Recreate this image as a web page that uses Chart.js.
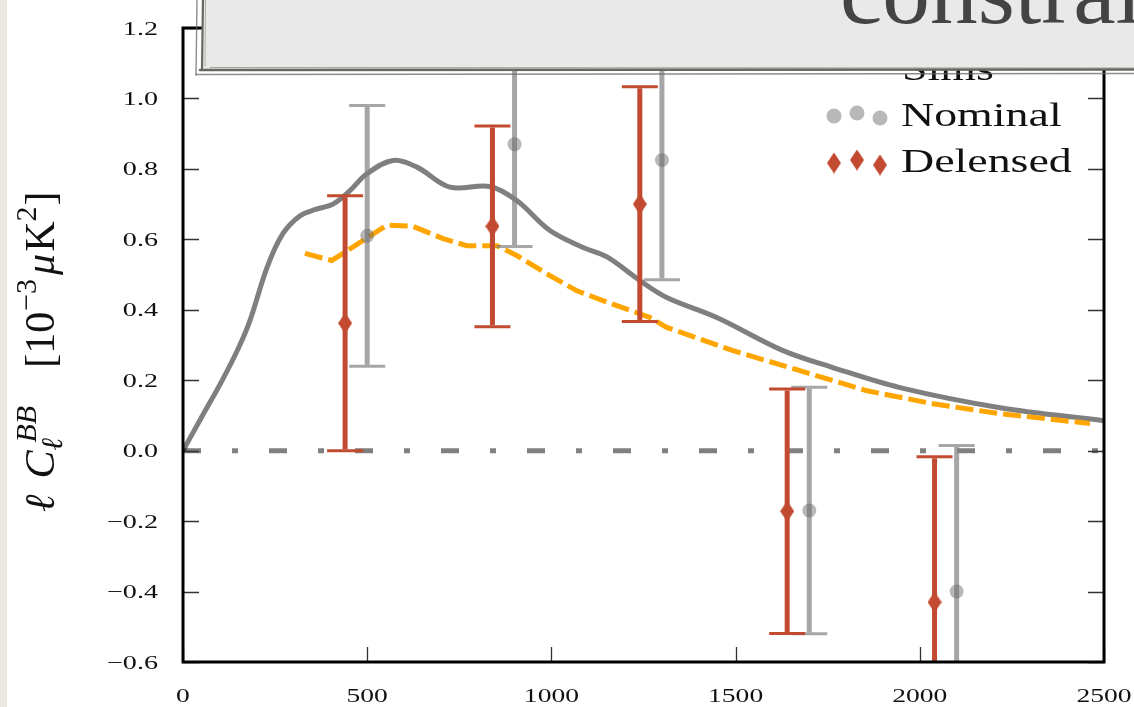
<!DOCTYPE html>
<html lang="en">
<head>
<meta charset="UTF-8">
<title>BB band powers</title>
<script src="https://cdn.jsdelivr.net/npm/chart.js@4.4.1/dist/chart.umd.min.js"></script>
<style>
  html, body { margin: 0; padding: 0; background: #fff; overflow: hidden; }
  canvas { display: block; }
</style>
</head>
<body>
<canvas id="bbChart" width="1134" height="707"></canvas>
<script>
// lensing BB theory (solid grey)
const ELL_LENSED = [0, 50, 106, 150, 182, 228, 271, 318, 360, 407, 453, 499, 570, 635, 725, 833, 906, 996, 1086, 1151, 1240, 1313, 1449, 1629, 1764, 1946, 2218, 2500];
const CBB_LENSED = [0, 0.094, 0.199, 0.29, 0.37, 0.52, 0.616, 0.667, 0.685, 0.70, 0.738, 0.786, 0.824, 0.805, 0.748, 0.75, 0.71, 0.625, 0.577, 0.55, 0.483, 0.435, 0.378, 0.284, 0.236, 0.179, 0.122, 0.085];

// residual after delensing (orange dashed)
const ELL_RESIDUAL = [331, 404, 553, 624, 706, 770, 852, 906, 996, 1069, 1140, 1268, 1313, 1493, 1675, 1857, 2036, 2218, 2462];
const CBB_RESIDUAL = [0.56, 0.54, 0.64, 0.637, 0.602, 0.582, 0.582, 0.554, 0.497, 0.454, 0.426, 0.378, 0.35, 0.284, 0.227, 0.17, 0.133, 0.105, 0.077];

// simulated band powers
const ELL_NOMINAL = [500, 900, 1300, 1700, 2100];
const CBB_NOMINAL = [0.61, 0.87, 0.825, -0.17, -0.40];
const ERR_NOMINAL = [0.37, 0.29, 0.34, 0.35, 0.415];

const ELL_DELENSED = [440, 840, 1240, 1640, 2040];
const CBB_DELENSED = [0.362, 0.637, 0.70, -0.172, -0.43];
const ERR_DELENSED = [0.362, 0.285, 0.333, 0.347, 0.413];

// axes
const X_MIN = 0, X_MAX = 2500, X_STEP = 500;
const Y_MIN = -0.6, Y_MAX = 1.2, Y_STEP = 0.2;
const ZERO_LINE_X = [0, 2500];

const LEGEND_TITLE = 'Sims';
const LEGEND_LABELS = ['Nominal', 'Delensed'];
const SLIDE_TITLE = 'constraints';

// colours
const RED = '#c14a30';
const GREY_BAR = 'rgba(128,128,128,0.7)';
const GREY_DOT = 'rgba(101,101,101,0.46)';
const SERIF = "'Liberation Serif', 'DejaVu Serif', serif";

function makeDiamond(w, h, color) {
    const c = document.createElement('canvas');
    c.width = w; c.height = h;
    const g = c.getContext('2d');
    g.fillStyle = color;
    g.beginPath();
    g.moveTo(w / 2, 0); g.lineTo(w, h / 2); g.lineTo(w / 2, h); g.lineTo(0, h / 2);
    g.closePath(); g.fill();
    return c;
}
const DIAMOND = makeDiamond(14, 21, RED);

const toPoints = (xs, ys) => xs.map((x, i) => ({ x, y: ys[i] }));

function fmtY(v) {
    if (Math.abs(v) < 1e-9) v = 0;
    return (v < 0 ? '\u2212' : '') + Math.abs(v).toFixed(1);
}

// text stretched horizontally
function wideText(ctx, str, x, y, sx, align) {
    ctx.save();
    ctx.translate(x, y);
    ctx.scale(sx, 1);
    ctx.textAlign = align;
    ctx.fillText(str, 0, 0);
    ctx.restore();
}

function drawErrorBars(chart, xs, ys, errs, color) {
    const { ctx, chartArea: a, scales: { x, y } } = chart;
    ctx.save();
    ctx.beginPath();
    ctx.rect(a.left, a.top, a.right - a.left, a.bottom - a.top);
    ctx.clip();
    ctx.strokeStyle = color;
    ctx.lineCap = 'butt';
    xs.forEach((v, i) => {
        const px = x.getPixelForValue(v);
        const top = y.getPixelForValue(ys[i] + errs[i]);
        const bot = y.getPixelForValue(ys[i] - errs[i]);
        ctx.lineWidth = 5;
        ctx.beginPath(); ctx.moveTo(px, top + 1.5); ctx.lineTo(px, bot - 1.5); ctx.stroke();
        ctx.lineWidth = 3;
        ctx.beginPath();
        ctx.moveTo(px - 18, top); ctx.lineTo(px + 18, top);
        ctx.moveTo(px - 18, bot); ctx.lineTo(px + 18, bot);
        ctx.stroke();
    });
    ctx.restore();
}

function drawFrame(chart) {
    const { ctx, chartArea: a, scales: { x, y } } = chart;
    ctx.save();
    // inward ticks
    ctx.strokeStyle = '#333';
    ctx.lineWidth = 1.3;
    ctx.beginPath();
    y.ticks.forEach(t => {
        const py = Math.round(y.getPixelForValue(t.value)) + 0.5;
        ctx.moveTo(a.left, py); ctx.lineTo(a.left + 16, py);
        ctx.moveTo(a.right, py); ctx.lineTo(a.right - 16, py);
    });
    x.ticks.forEach(t => {
        const px = Math.round(x.getPixelForValue(t.value)) + 0.5;
        ctx.moveTo(px, a.bottom); ctx.lineTo(px, a.bottom - 15);
    });
    ctx.stroke();
    // spines
    ctx.strokeStyle = '#000';
    ctx.lineWidth = 3;
    ctx.beginPath();
    ctx.moveTo(a.left, a.top); ctx.lineTo(a.right, a.top);
    ctx.lineTo(a.right, a.bottom); ctx.lineTo(a.left, a.bottom); ctx.closePath();
    ctx.stroke();

    // tick labels
    ctx.fillStyle = '#111';
    ctx.font = '19px ' + SERIF;
    ctx.textBaseline = 'alphabetic';
    y.ticks.forEach(t => {
        wideText(ctx, fmtY(t.value), a.left - 25, y.getPixelForValue(t.value) + 6.5, 1.48, 'right');
    });
    x.ticks.forEach(t => {
        wideText(ctx, String(t.value), x.getPixelForValue(t.value), 702, 1.45, 'center');
    });
    ctx.restore();
}

function drawYTitle(ctx) {
    const ital = s => 'italic ' + s + 'px ' + SERIF;
    const rom = s => s + 'px ' + SERIF;
    ctx.save();
    ctx.translate(54, 512);
    ctx.rotate(-Math.PI / 2);
    ctx.fillStyle = '#111';
    ctx.textBaseline = 'alphabetic';
    ctx.textAlign = 'left';
    let cx = 0;
    const put = (t, font, rise, dx) => {
        ctx.font = font;
        ctx.fillText(t, cx + (dx || 0), rise);
        return ctx.measureText(t).width + (dx || 0);
    };
    cx += put('\u2113', ital(42), 0) + 16;
    cx += put('C', ital(42), 0);
    const wSup = put('BB', ital(30), -18, 8);
    const wSub = put('\u2113', ital(30), 8, 0);
    cx += Math.max(wSup, wSub) + 38;
    cx += put('[10', rom(42), 0) + 1;
    cx += put('\u22123', rom(30), -18) + 4;
    cx += put('\u03bc', ital(42), 0) + 2;
    cx += put('K', rom(42), 0);
    cx += put('2', rom(30), -18) + 1;
    put(']', rom(42), 0);
    ctx.restore();
}

function drawLegend(ctx) {
    ctx.save();
    ctx.fillStyle = '#111';
    ctx.font = '34px ' + SERIF;
    ctx.textBaseline = 'alphabetic';
    wideText(ctx, LEGEND_TITLE, 902, 80, 1.35, 'left');
    wideText(ctx, LEGEND_LABELS[0], 901, 126, 1.35, 'left');
    wideText(ctx, LEGEND_LABELS[1], 901, 172, 1.35, 'left');
    // three scattered markers per entry
    const offs = [[834, 0], [857, -3], [880, 2]];
    ctx.fillStyle = GREY_DOT;
    offs.forEach(([mx, dy]) => {
        ctx.beginPath(); ctx.arc(mx, 116 + dy, 7.5, 0, Math.PI * 2); ctx.fill();
    });
    offs.forEach(([mx, dy]) => {
        ctx.drawImage(DIAMOND, mx - 7, 163 + dy - 10.5);
    });
    ctx.restore();
}

function drawTitleBox(ctx) {
    ctx.save();
    ctx.fillStyle = '#e9e9e9';
    ctx.fillRect(203, 0, 931, 70);
    // sketchy border strokes
    ctx.lineCap = 'round';
    const strokes = [
        ['#6a6762', 2.6, 200, 70, 1134, 69.5],
        ['rgba(106,103,98,0.75)', 1.5, 196, 74.5, 1134, 73.5],
        ['rgba(120,118,114,0.6)', 1, 210, 67.5, 1134, 68],
        ['#6a6762', 2.2, 203, -2, 202, 70],
        ['rgba(106,103,98,0.75)', 1.4, 197, 0, 196, 75],
        ['rgba(120,118,114,0.5)', 1, 205.5, 0, 205, 66]
    ];
    strokes.forEach(([c, w, x1, y1, x2, y2]) => {
        ctx.strokeStyle = c; ctx.lineWidth = w;
        ctx.beginPath(); ctx.moveTo(x1, y1); ctx.lineTo(x2, y2); ctx.stroke();
    });
    ctx.fillStyle = '#444';
    ctx.font = '90px ' + SERIF;
    ctx.textBaseline = 'alphabetic';
    wideText(ctx, SLIDE_TITLE, 840, 23, 1.06, 'left');
    ctx.restore();
}

const overlayPlugin = {
    id: 'overlay',
    beforeDraw(chart) {
        const ctx = chart.ctx;
        ctx.save();
        ctx.fillStyle = '#fff';
        ctx.fillRect(0, 0, chart.width, chart.height);
        ctx.fillStyle = '#ebe7e1';
        ctx.fillRect(0, 0, 7, chart.height);
        ctx.restore();
    },
    afterDatasetDraw(chart, args) {
        // bars go above the curves but beneath the markers
        if (args.index === 2) {
            drawErrorBars(chart, ELL_NOMINAL, CBB_NOMINAL, ERR_NOMINAL, GREY_BAR);
            drawErrorBars(chart, ELL_DELENSED, CBB_DELENSED, ERR_DELENSED, RED);
        }
    },
    afterDraw(chart) {
        drawFrame(chart);
        drawYTitle(chart.ctx);
        drawLegend(chart.ctx);
        drawTitleBox(chart.ctx);
    }
};

new Chart(document.getElementById('bbChart'), {
    type: 'scatter',
    data: {
        datasets: [
            {
                label: LEGEND_LABELS[1],
                data: toPoints(ELL_DELENSED, CBB_DELENSED),
                pointStyle: DIAMOND,
                pointRadius: 10
            },
            {
                label: LEGEND_LABELS[0],
                data: toPoints(ELL_NOMINAL, CBB_NOMINAL),
                pointStyle: 'circle',
                pointRadius: 7,
                backgroundColor: GREY_DOT,
                borderWidth: 0
            },
            {
                label: 'residual',
                data: toPoints(ELL_RESIDUAL, CBB_RESIDUAL),
                showLine: true,
                pointRadius: 0,
                borderColor: '#ffa500',
                borderWidth: 5,
                borderDash: [18, 6],
                tension: 0
            },
            {
                label: 'lensing',
                data: toPoints(ELL_LENSED, CBB_LENSED),
                showLine: true,
                pointRadius: 0,
                borderColor: 'rgba(0,0,0,0.5)',
                borderWidth: 5,
                tension: 0.35
            },
            {
                label: 'zero',
                data: toPoints(ZERO_LINE_X, ZERO_LINE_X.map(() => 0)),
                showLine: true,
                pointRadius: 0,
                borderColor: '#808080',
                borderWidth: 5,
                borderDash: [18, 31, 6, 31]
            }
        ]
    },
    options: {
        responsive: false,
        animation: false,
        events: [],
        layout: { padding: { top: 28, right: 30, left: 0, bottom: 0 } },
        scales: {
            x: {
                type: 'linear', min: X_MIN, max: X_MAX,
                ticks: { display: false, stepSize: X_STEP },
                grid: { display: false }, border: { display: false },
                afterFit: s => { s.height = 45; }
            },
            y: {
                type: 'linear', min: Y_MIN, max: Y_MAX,
                ticks: { display: false, stepSize: Y_STEP },
                grid: { display: false }, border: { display: false },
                afterFit: s => { s.width = 183; }
            }
        },
        plugins: { legend: { display: false }, tooltip: { enabled: false } }
    },
    plugins: [overlayPlugin]
});
</script>
</body>
</html>
